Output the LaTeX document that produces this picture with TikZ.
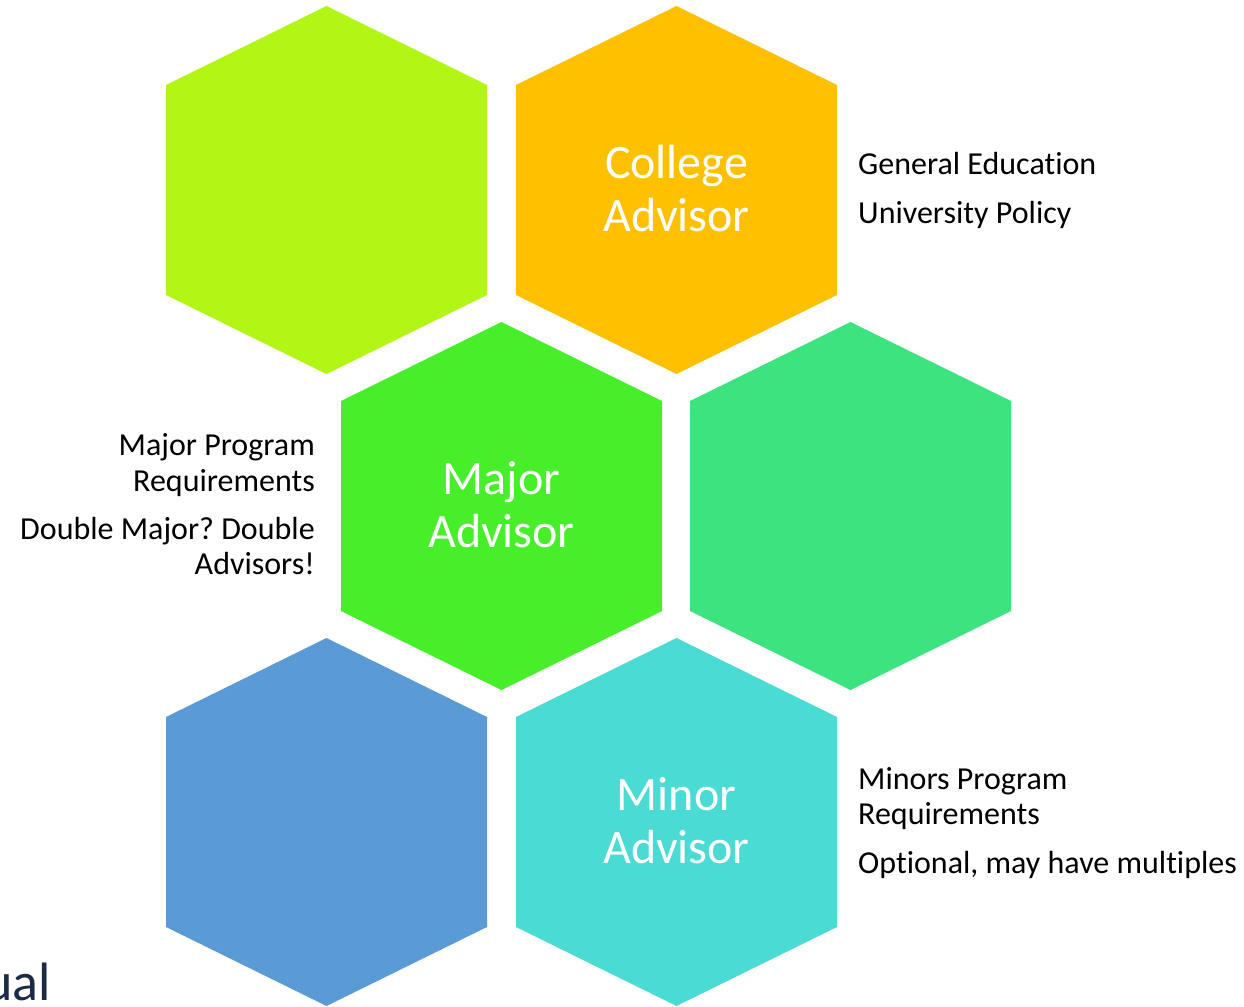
\documentclass[tikz,border=0pt]{standalone}
\usepackage{fontspec}
\setmainfont{Carlito}[Ligatures=NoCommon]
\frenchspacing
\definecolor{hexlime}{HTML}{B3F514}
\definecolor{hexorange}{HTML}{FFC000}
\definecolor{hexgreen}{HTML}{47EF2B}
\definecolor{hexmint}{HTML}{3CE37F}
\definecolor{hexblue}{HTML}{5B9BD5}
\definecolor{hexcyan}{HTML}{4ADBD4}
\definecolor{navytext}{HTML}{1C2A48}
\newcommand\hexshape[2]{(#1-160.5,#2-105) -- (#1,#2-184) -- (#1+160.5,#2-105) -- (#1+160.5,#2+105) -- (#1,#2+184) -- (#1-160.5,#2+105) -- cycle}
\begin{document}
\begin{tikzpicture}[x=1pt,y=-1pt,
  hextext/.style={text=white,align=center,font=\fontsize{48}{53}\selectfont,inner sep=0pt},
  sidetext/.style={text=black,font=\fontsize{32}{36}\selectfont,inner sep=0pt}]
\useasboundingbox (0,0) rectangle (1244,1006);
\clip (0,0) rectangle (1244,1006);
\fill[white] (0,0) rectangle (1244,1006);
\fill[hexlime]   \hexshape{326.5}{190};
\fill[hexorange] \hexshape{676.5}{190};
\fill[hexgreen]  \hexshape{501.5}{506};
\fill[hexmint]   \hexshape{850.5}{506};
\fill[hexblue]   \hexshape{326.5}{822};
\fill[hexcyan]   \hexshape{676.5}{822};
\node[hextext] (college) at (676.5,188.5) {College\\Advisor};
\node[hextext] (major) at (501.5,504.5) {Major\\Advisor};
\node[hextext] (minor) at (676.5,821) {Minor\\Advisor};
\node[sidetext,anchor=base west] (gened) at (858,174.5) {General Education};
\node[sidetext,anchor=base west] (policy) at (858,223.5) {University Policy};
\node[sidetext,anchor=base east] (majprog) at (315,455.5) {Major Program};
\node[sidetext,anchor=base east] (majreq) at (315,491.5) {Requirements};
\node[sidetext,anchor=base east] (dbl) at (315,539.5) {Double Major? Double};
\node[sidetext,anchor=base east] (dbladv) at (315,574.5) {Advisors!};
\node[sidetext,anchor=base west] (minprog) at (858,789.5) {Minors Program};
\node[sidetext,anchor=base west] (minreq) at (858,824.5) {Requirements};
\node[sidetext,anchor=base west] (optional) at (858,873.5) {Optional, may have multiples};
\node[text=navytext,font=\fontsize{54}{60}\selectfont,inner sep=0pt,anchor=base east] (ual) at (51,1000) {ual};
\end{tikzpicture}
\end{document}
